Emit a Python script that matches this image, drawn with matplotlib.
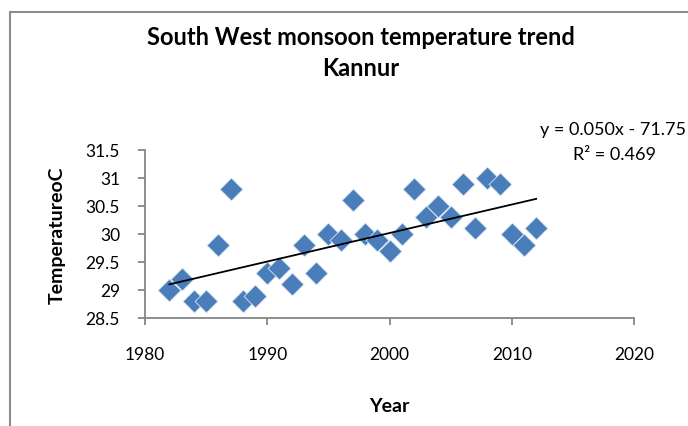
import numpy as np
import matplotlib
matplotlib.use("Agg")
import matplotlib.pyplot as plt
from matplotlib.patches import Rectangle

plt.rcParams['font.family'] = ['Lato', 'DejaVu Sans']

# data
years = [1982, 1983, 1984, 1985, 1986, 1987, 1988, 1989, 1990, 1991,
         1992, 1993, 1994, 1995, 1996, 1997, 1998, 1999, 2000, 2001,
         2002, 2003, 2004, 2005, 2006, 2007, 2008, 2009, 2010, 2011, 2012]
temps = [29.0, 29.2, 28.8, 28.8, 29.8, 30.8, 28.8, 28.9, 29.3, 29.4,
         29.1, 29.8, 29.3, 30.0, 29.9, 30.6, 30.0, 29.9, 29.7, 30.0,
         30.8, 30.3, 30.5, 30.3, 30.9, 30.1, 31.0, 30.9, 30.0, 29.8, 30.1]
xticks = [1980, 1990, 2000, 2010, 2020]
yticks = [28.5, 29, 29.5, 30, 30.5, 31, 31.5]
ytick_labels = ['28.5', '29', '29.5', '30', '30.5', '31', '31.5']
title = "South West monsoon temperature trend\nKannur"
eq_text = "y = 0.050x - 71.75"
r2_text = "R² = 0.469"

fig = plt.figure(figsize=(6.88, 4.27), dpi=100)

# chart area border (cut off at right/bottom like the screenshot)
fig.patches.append(Rectangle((10/688, -0.1), 1.2, 1 - 13/427 + 0.1,
                             transform=fig.transFigure, fill=False,
                             edgecolor='#8c8c8c', linewidth=1.5))

ax = fig.add_axes([145/688, 1 - 319/427, (634 - 145)/688, (319 - 151)/427])

ax.scatter(years, temps, marker='D', s=135, color='#4a7ebb',
           edgecolors='#dbe5f1', linewidths=0.6, zorder=3)

# linear trend
coef = np.polyfit(years, temps, 1)
xs = np.array([years[0], years[-1]])
ax.plot(xs, np.polyval(coef, xs), color='black', linewidth=1.3, zorder=4)

ax.set_xlim(1980, 2020)
ax.set_ylim(28.5, 31.5)
ax.set_xticks(xticks)
ax.set_yticks(yticks)
ax.set_yticklabels(ytick_labels)

for s in ['top', 'right']:
    ax.spines[s].set_visible(False)
for s in ['left', 'bottom']:
    ax.spines[s].set_color('#868686')
    ax.spines[s].set_linewidth(1.3)
ax.tick_params(axis='both', direction='out', length=5, width=1.3,
               color='#868686', labelsize=12.5, labelcolor='black')
ax.tick_params(axis='x', pad=15)
ax.tick_params(axis='y', pad=13)

ax.set_xlabel('Year', fontsize=14, fontweight='bold', labelpad=25)
ax.set_ylabel('TemperatureoC', fontsize=14, fontweight='bold', labelpad=14)

fig.text(361/688, 1 - 53/427, title, ha='center', va='center',
         fontsize=17, fontweight='bold', linespacing=1.4)
fig.text(686/688, 1 - 130/427, eq_text, ha='right', va='center', fontsize=13)
fig.text(656/688, 1 - 155/427, r2_text, ha='right', va='center', fontsize=13)

fig.savefig('out.png', dpi=100)
